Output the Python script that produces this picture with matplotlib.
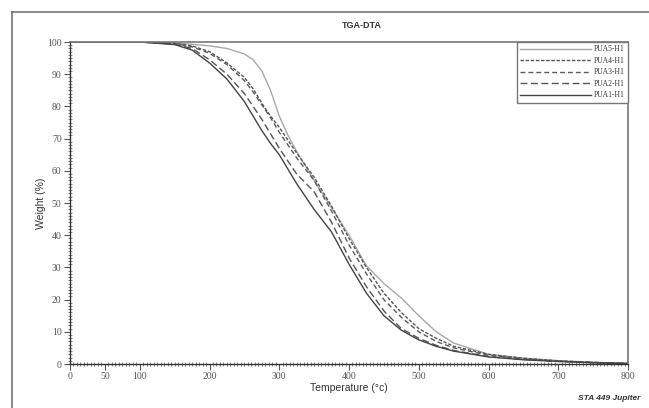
import matplotlib.pyplot as plt
from matplotlib.lines import Line2D
from matplotlib.ticker import MultipleLocator, FixedLocator

# temperature grid (deg C) and weight (%)
temp = [0, 50, 100, 150, 175, 200, 225, 250, 262.5, 275, 287.5, 300, 312.5, 325, 350,
        375, 400, 425, 450, 475, 500, 525, 550, 600, 650, 700, 750, 800]

pua5 = [100, 100, 100, 99.7, 99.3, 98.8, 98.0, 96.3, 94.5, 91.0, 85.0, 77.0, 71.0, 66.0, 57.0,
        48.5, 40.0, 30.5, 25.0, 20.5, 15.0, 10.0, 6.5, 3.0, 1.8, 1.0, 0.5, 0.2]
pua4 = [100, 100, 100, 99.6, 98.8, 97.0, 93.5, 89.0, 85.5, 81.0, 77.0, 73.5, 69.5, 65.5, 58.0,
        49.0, 39.0, 30.0, 22.0, 16.0, 11.0, 8.0, 5.5, 3.0, 1.8, 1.0, 0.5, 0.2]
pua3 = [100, 100, 100, 99.5, 98.5, 96.5, 93.0, 88.0, 84.5, 80.5, 76.5, 72.0, 68.0, 64.0, 57.0,
        47.5, 37.0, 28.0, 20.0, 14.5, 10.0, 7.0, 5.0, 2.7, 1.6, 0.9, 0.5, 0.2]
pua2 = [100, 100, 100, 99.3, 98.0, 94.5, 90.0, 84.0, 80.0, 76.0, 71.5, 67.0, 63.0, 59.0, 53.5,
        44.0, 33.0, 24.0, 16.5, 11.0, 8.0, 5.8, 4.2, 2.3, 1.4, 0.8, 0.4, 0.1]
pua1 = [100, 100, 100, 99.2, 97.5, 93.5, 88.5, 81.5, 77.0, 72.5, 68.5, 65.0, 60.5, 56.0, 48.0,
        41.0, 31.0, 22.0, 15.0, 10.5, 7.5, 5.5, 4.0, 2.2, 1.3, 0.8, 0.4, 0.1]

labels = ["PUA5-H1", "PUA4-H1", "PUA3-H1", "PUA2-H1", "PUA1-H1"]
series = [pua5, pua4, pua3, pua2, pua1]
colors = ["#a8a8a8", "#555555", "#5a5a5a", "#555555", "#444444"]
styles = ["-", (0, (2.5, 1.2)), (0, (3.5, 2.2)), (0, (5, 2.5)), "-"]

x_major = [0, 50, 100, 200, 300, 400, 500, 600, 700, 800]

serif = "Liberation Serif"
sans = "Liberation Sans"
tick_grey = "#555555"
frame_grey = "#777777"

fig = plt.figure(figsize=(6.49, 4.08), dpi=100)
ax = fig.add_axes([70 / 649, 1 - 364 / 408, 558 / 649, 322 / 408])

for vals, lab, col, ls in zip(series, labels, colors, styles):
    ax.plot(temp, vals, color=col, linestyle=ls, linewidth=1.0, label=lab)

ax.set_xlim(0, 800)
ax.set_ylim(0, 100)
ax.xaxis.set_major_locator(FixedLocator(x_major))
ax.xaxis.set_minor_locator(MultipleLocator(5))
ax.yaxis.set_major_locator(MultipleLocator(10))
ax.yaxis.set_minor_locator(MultipleLocator(1))
ax.tick_params(which="major", direction="out", length=4, width=0.8,
               colors=tick_grey, labelsize=7, pad=2)
ax.tick_params(which="minor", direction="inout", length=3, width=0.5, colors=tick_grey)
for lbl in ax.get_xticklabels() + ax.get_yticklabels():
    lbl.set_fontfamily(serif)

for side in ["left", "bottom"]:
    ax.spines[side].set_color("#333333")
    ax.spines[side].set_linewidth(1.0)
for side in ["top", "right"]:
    ax.spines[side].set_color(frame_grey)
    ax.spines[side].set_linewidth(1.2)

ax.set_xlabel("Temperature (°c)", fontfamily=sans, fontsize=7.5, color="#333333", labelpad=1)
ax.set_ylabel("Weight (%)", fontfamily=sans, fontsize=7.5, color="#333333", labelpad=1)

leg = ax.legend(loc="upper right", bbox_to_anchor=(1.0, 1.0), borderaxespad=0,
                prop={"family": serif, "size": 5.5}, handlelength=9.2,
                labelspacing=0.45, fancybox=False, framealpha=1,
                borderpad=0.45, handletextpad=0.4)
leg.get_frame().set_edgecolor(frame_grey)
leg.get_frame().set_linewidth(1.0)
for t in leg.get_texts():
    t.set_color("#333333")

# outer report frame: left edge and title band
fig.add_artist(Line2D([12 / 649, 12 / 649], [0, 1 - 12 / 408],
                      color=frame_grey, linewidth=1.2))
fig.add_artist(Line2D([12 / 649, 1], [1 - 12 / 408, 1 - 12 / 408],
                      color=frame_grey, linewidth=1.2))
fig.text(362 / 649, 1 - 26 / 408, "TGA-DTA", fontfamily=sans, fontsize=6.5,
         fontweight="bold", color="#333333", ha="center", va="center")
fig.text(640 / 649, 1 - 398 / 408, "STA 449 Jupiter", fontfamily=sans, fontsize=6,
         fontweight="bold", fontstyle="italic", color="#333333", ha="right", va="center")

fig.savefig("out.png", dpi=100)
